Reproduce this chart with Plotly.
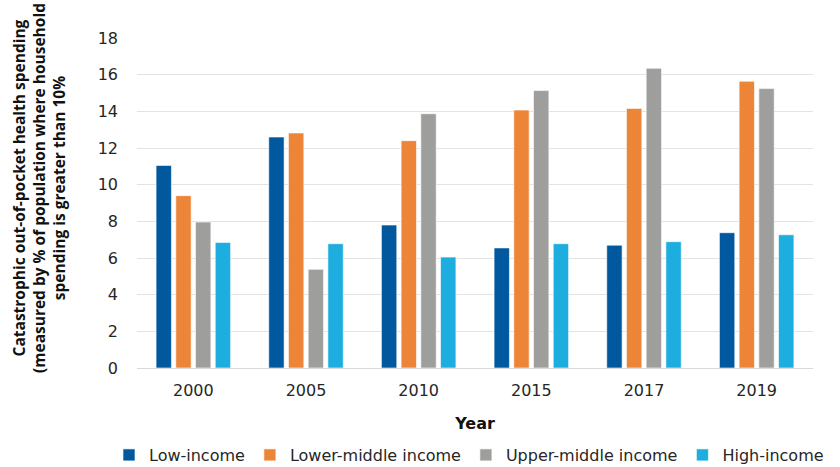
import plotly.graph_objects as go

years = ["2000", "2005", "2010", "2015", "2017", "2019"]
low_income = [11.05, 12.6, 7.8, 6.55, 6.7, 7.38]
lower_middle = [9.4, 12.82, 12.4, 14.07, 14.16, 15.64]
upper_middle = [7.96, 5.38, 13.87, 15.13, 16.35, 15.24]
high_income = [6.85, 6.78, 6.05, 6.78, 6.89, 7.27]

series = [
    ("Low-income", low_income, "#00599F"),
    ("Lower-middle income", lower_middle, "#ED8539"),
    ("Upper-middle income", upper_middle, "#9E9E9C"),
    ("High-income", high_income, "#1EADDF"),
]

FONT = "DejaVu Sans, sans-serif"
W, H = 840, 467
ML, MR = 10, 10
GW = W - ML - MR
PLOT_L, PLOT_R = 137, 813

fig = go.Figure()
for name, vals, col in series:
    fig.add_trace(go.Bar(
        x=years, y=vals, name=name,
        marker=dict(color=col, line=dict(color="rgba(255,255,255,0.6)", width=1)),
    ))

fig.update_layout(
    width=W, height=H,
    margin=dict(l=ML, r=MR, t=38, b=99, autoexpand=False),
    paper_bgcolor="white", plot_bgcolor="white",
    barmode="group", bargap=0.30, bargroupgap=0.22,
    font=dict(family=FONT, color="#262626"),
    xaxis=dict(
        domain=[(PLOT_L - ML) / GW, (PLOT_R - ML) / GW],
        type="category", showgrid=False, showline=False, ticks="",
        tickfont=dict(size=16, color="#262626"), ticklabelstandoff=11,
        title=dict(text="<b>Year</b>", font=dict(size=16, color="#111111"), standoff=18),
    ),
    yaxis=dict(
        range=[0, 18], dtick=2, showgrid=True, gridcolor="#E3E3E3", gridwidth=1,
        zeroline=True, zerolinecolor="#D9D9D9", zerolinewidth=1,
        tickfont=dict(size=16, color="#262626"), ticklabelstandoff=18,
    ),
    legend=dict(
        orientation="h", xref="paper", yref="container",
        x=(469 - ML) / GW, xanchor="center", y=(H - 455) / H, yanchor="middle",
        font=dict(size=16, color="#262626"), itemwidth=30, tracegroupgap=0,
        traceorder="normal",
    ),
    annotations=[dict(
        text="<b>Catastrophic out-of-pocket health spending<br>(measured by % of population where household<br>spending is greater than 10%</b>",
        xref="paper", yref="paper", x=(39 - ML) / GW, y=(368 - 188) / 330,
        xanchor="center", yanchor="middle", textangle=-90, showarrow=False,
        font=dict(size=15.5, color="#111111", family="Open Sans, Lato, sans-serif"),
    )],
)

fig.write_html("out.html")
